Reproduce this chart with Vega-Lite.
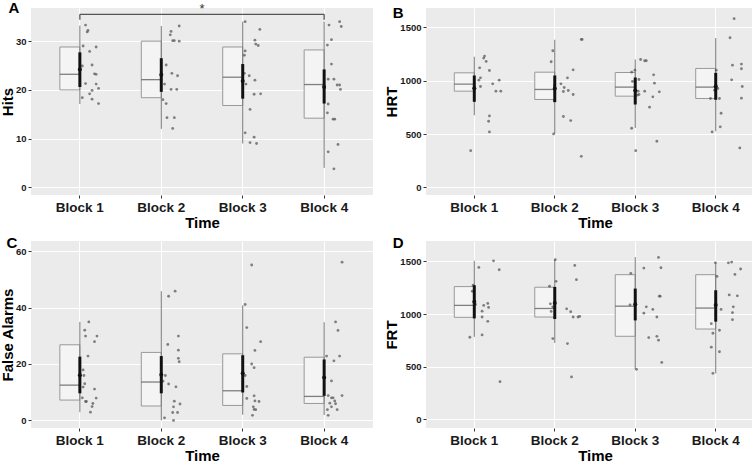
{
  "$schema": "https://vega.github.io/schema/vega-lite/v6.json",
  "background": "white",
  "padding": {"left": 0, "top": 0, "right": 0, "bottom": 0},
  "config": {
    "font": "Liberation Sans",
    "view": {"fill": "#EBEBEB", "stroke": null},
    "scale": {"continuousPadding": 0},
    "axis": {
      "labelFont": "Liberation Sans", "titleFont": "Liberation Sans",
      "labelFontWeight": "bold", "titleFontWeight": "bold",
      "labelColor": "#1a1a1a", "titleColor": "#000000",
      "domain": false, "tickColor": "#333333", "tickSize": 3, "tickWidth": 1,
      "gridColor": "#FFFFFF"
    },
    "axisX": {"labelFontSize": 13.5, "titleFontSize": 15, "labelAngle": 0, "labelPadding": 2, "titlePadding": 2, "bandPosition": 0.5, "grid": true, "gridWidth": 1.1},
    "axisY": {"labelFontSize": 9.5, "titleFontSize": 15, "labelPadding": 2, "titlePadding": 0},
    "title": {"font": "Liberation Sans", "fontWeight": "bold", "fontSize": 15, "anchor": "start", "frame": "bounds", "color": "#000000", "offset": -13, "dx": 8}
  },
  "datasets": {
    "stats": [
      {"p":"A","b":"Block 1","q1":20,"med":23.2,"q3":28.8,"lo":17.1,"hi":33.2,"mean":24.2,"cil":20.6,"cih":27.7},
      {"p":"A","b":"Block 2","q1":18.4,"med":22.1,"q3":30,"lo":12.0,"hi":33.1,"mean":23.1,"cil":19.6,"cih":26.5},
      {"p":"A","b":"Block 3","q1":16.8,"med":22.6,"q3":28.8,"lo":9.0,"hi":34.0,"mean":21.8,"cil":18.2,"cih":25.3},
      {"p":"A","b":"Block 4","q1":14.2,"med":21.1,"q3":28.2,"lo":4.0,"hi":34.0,"mean":20.6,"cil":17.2,"cih":24.2},
      {"p":"B","b":"Block 1","q1":902,"med":968,"q3":1074,"lo":676,"hi":1225,"mean":930,"cil":802,"cih":1049},
      {"p":"B","b":"Block 2","q1":824,"med":918,"q3":1080,"lo":504,"hi":1384,"mean":927,"cil":799,"cih":1049},
      {"p":"B","b":"Block 3","q1":855,"med":940,"q3":1077,"lo":557,"hi":1199,"mean":908,"cil":777,"cih":1030},
      {"p":"B","b":"Block 4","q1":833,"med":940,"q3":1115,"lo":526,"hi":1400,"mean":949,"cil":821,"cih":1074},
      {"p":"C","b":"Block 1","q1":7.2,"med":12.5,"q3":26.8,"lo":2.9,"hi":34.9,"mean":16.0,"cil":9.6,"cih":22.6},
      {"p":"C","b":"Block 2","q1":5.1,"med":13.6,"q3":24.1,"lo":0,"hi":45.8,"mean":16.2,"cil":9.6,"cih":22.8},
      {"p":"C","b":"Block 3","q1":5.3,"med":10.5,"q3":23.6,"lo":2.0,"hi":40.8,"mean":16.7,"cil":9.9,"cih":23.1},
      {"p":"C","b":"Block 4","q1":6.0,"med":8.5,"q3":22.4,"lo":1.9,"hi":34.8,"mean":15.2,"cil":8.7,"cih":21.6},
      {"p":"D","b":"Block 1","q1":969,"med":1082,"q3":1261,"lo":783,"hi":1506,"mean":1116,"cil":959,"cih":1274},
      {"p":"D","b":"Block 2","q1":972,"med":1053,"q3":1255,"lo":726,"hi":1516,"mean":1104,"cil":953,"cih":1258},
      {"p":"D","b":"Block 3","q1":789,"med":1075,"q3":1374,"lo":475,"hi":1541,"mean":1094,"cil":940,"cih":1242},
      {"p":"D","b":"Block 4","q1":858,"med":1057,"q3":1374,"lo":437,"hi":1491,"mean":1085,"cil":928,"cih":1226}
    ],
    "pts": [
      {"p":"A","b":"Block 1","v":33.3,"j":0.07},{"p":"A","b":"Block 1","v":32.2,"j":0.10},{"p":"A","b":"Block 1","v":31.9,"j":0.09},{"p":"A","b":"Block 1","v":29.0,"j":0.04},{"p":"A","b":"Block 1","v":28.8,"j":0.20},{"p":"A","b":"Block 1","v":27.9,"j":0.12},{"p":"A","b":"Block 1","v":25.1,"j":0.15},{"p":"A","b":"Block 1","v":24.9,"j":0.03},{"p":"A","b":"Block 1","v":23.3,"j":0.18},{"p":"A","b":"Block 1","v":23.2,"j":0.20},{"p":"A","b":"Block 1","v":21.3,"j":0.07},{"p":"A","b":"Block 1","v":21.2,"j":0.20},{"p":"A","b":"Block 1","v":20.3,"j":0.23},{"p":"A","b":"Block 1","v":19.9,"j":0.15},{"p":"A","b":"Block 1","v":19.2,"j":0.12},{"p":"A","b":"Block 1","v":18.4,"j":0.03},{"p":"A","b":"Block 1","v":18.1,"j":0.15},{"p":"A","b":"Block 1","v":17.2,"j":0.23},
      {"p":"A","b":"Block 2","v":33.1,"j":0.22},{"p":"A","b":"Block 2","v":32.0,"j":0.12},{"p":"A","b":"Block 2","v":31.3,"j":0.11},{"p":"A","b":"Block 2","v":30.1,"j":0.14},{"p":"A","b":"Block 2","v":30.1,"j":0.16},{"p":"A","b":"Block 2","v":30.0,"j":0.22},{"p":"A","b":"Block 2","v":25.1,"j":0.06},{"p":"A","b":"Block 2","v":23.4,"j":0.13},{"p":"A","b":"Block 2","v":22.9,"j":0.20},{"p":"A","b":"Block 2","v":21.2,"j":0.04},{"p":"A","b":"Block 2","v":20.1,"j":0.12},{"p":"A","b":"Block 2","v":20.1,"j":0.19},{"p":"A","b":"Block 2","v":18.0,"j":0.02},{"p":"A","b":"Block 2","v":17.2,"j":0.06},{"p":"A","b":"Block 2","v":14.3,"j":0.07},{"p":"A","b":"Block 2","v":14.3,"j":0.16},{"p":"A","b":"Block 2","v":12.1,"j":0.14},
      {"p":"A","b":"Block 3","v":34.0,"j":0.03},{"p":"A","b":"Block 3","v":32.4,"j":0.21},{"p":"A","b":"Block 3","v":30.2,"j":0.15},{"p":"A","b":"Block 3","v":29.4,"j":0.16},{"p":"A","b":"Block 3","v":29.1,"j":0.19},{"p":"A","b":"Block 3","v":28.0,"j":0.03},{"p":"A","b":"Block 3","v":27.1,"j":0.02},{"p":"A","b":"Block 3","v":23.4,"j":0.02},{"p":"A","b":"Block 3","v":22.9,"j":0.08},{"p":"A","b":"Block 3","v":22.0,"j":0.15},{"p":"A","b":"Block 3","v":21.2,"j":0.04},{"p":"A","b":"Block 3","v":19.2,"j":0.22},{"p":"A","b":"Block 3","v":19.1,"j":0.14},{"p":"A","b":"Block 3","v":16.0,"j":0.09},{"p":"A","b":"Block 3","v":11.2,"j":0.03},{"p":"A","b":"Block 3","v":10.3,"j":0.14},{"p":"A","b":"Block 3","v":9.2,"j":0.09},{"p":"A","b":"Block 3","v":9.0,"j":0.17},
      {"p":"A","b":"Block 4","v":34.0,"j":0.19},{"p":"A","b":"Block 4","v":33.3,"j":0.06},{"p":"A","b":"Block 4","v":33.0,"j":0.21},{"p":"A","b":"Block 4","v":30.3,"j":0.09},{"p":"A","b":"Block 4","v":29.2,"j":0.04},{"p":"A","b":"Block 4","v":25.3,"j":0.09},{"p":"A","b":"Block 4","v":22.2,"j":0.05},{"p":"A","b":"Block 4","v":22.2,"j":0.12},{"p":"A","b":"Block 4","v":21.0,"j":0.16},{"p":"A","b":"Block 4","v":21.0,"j":0.19},{"p":"A","b":"Block 4","v":20.1,"j":0.20},{"p":"A","b":"Block 4","v":17.1,"j":0.05},{"p":"A","b":"Block 4","v":15.3,"j":0.04},{"p":"A","b":"Block 4","v":14.0,"j":0.11},{"p":"A","b":"Block 4","v":14.0,"j":0.13},{"p":"A","b":"Block 4","v":8.8,"j":0.17},{"p":"A","b":"Block 4","v":7.3,"j":0.05},{"p":"A","b":"Block 4","v":3.8,"j":0.12},
      {"p":"B","b":"Block 1","v":1231,"j":0.12},{"p":"B","b":"Block 1","v":1212,"j":0.11},{"p":"B","b":"Block 1","v":1181,"j":0.14},{"p":"B","b":"Block 1","v":1121,"j":0.06},{"p":"B","b":"Block 1","v":1096,"j":0.18},{"p":"B","b":"Block 1","v":1027,"j":0.07},{"p":"B","b":"Block 1","v":1005,"j":0.05},{"p":"B","b":"Block 1","v":1005,"j":0.30},{"p":"B","b":"Block 1","v":946,"j":0.07},{"p":"B","b":"Block 1","v":971,"j":0.22},{"p":"B","b":"Block 1","v":902,"j":0.26},{"p":"B","b":"Block 1","v":902,"j":0.32},{"p":"B","b":"Block 1","v":670,"j":0.18},{"p":"B","b":"Block 1","v":620,"j":0.17},{"p":"B","b":"Block 1","v":520,"j":0.18},{"p":"B","b":"Block 1","v":344,"j":-0.05},
      {"p":"B","b":"Block 2","v":1281,"j":-0.03},{"p":"B","b":"Block 2","v":1178,"j":-0.05},{"p":"B","b":"Block 2","v":1102,"j":0.22},{"p":"B","b":"Block 2","v":1027,"j":0.15},{"p":"B","b":"Block 2","v":971,"j":0.07},{"p":"B","b":"Block 2","v":936,"j":0.11},{"p":"B","b":"Block 2","v":955,"j":-0.01},{"p":"B","b":"Block 2","v":908,"j":0.16},{"p":"B","b":"Block 2","v":899,"j":0.10},{"p":"B","b":"Block 2","v":871,"j":0.22},{"p":"B","b":"Block 2","v":811,"j":-0.01},{"p":"B","b":"Block 2","v":664,"j":0.10},{"p":"B","b":"Block 2","v":626,"j":0.19},{"p":"B","b":"Block 2","v":501,"j":-0.02},{"p":"B","b":"Block 2","v":1387,"j":0.32},{"p":"B","b":"Block 2","v":1387,"j":0.33},{"p":"B","b":"Block 2","v":291,"j":0.32},
      {"p":"B","b":"Block 3","v":1199,"j":0.06},{"p":"B","b":"Block 3","v":1187,"j":0.11},{"p":"B","b":"Block 3","v":1187,"j":0.13},{"p":"B","b":"Block 3","v":1099,"j":-0.01},{"p":"B","b":"Block 3","v":1080,"j":-0.05},{"p":"B","b":"Block 3","v":1011,"j":0.04},{"p":"B","b":"Block 3","v":1055,"j":0.22},{"p":"B","b":"Block 3","v":993,"j":-0.04},{"p":"B","b":"Block 3","v":902,"j":0.03},{"p":"B","b":"Block 3","v":902,"j":0.11},{"p":"B","b":"Block 3","v":977,"j":0.23},{"p":"B","b":"Block 3","v":864,"j":0.02},{"p":"B","b":"Block 3","v":871,"j":0.04},{"p":"B","b":"Block 3","v":896,"j":0.29},{"p":"B","b":"Block 3","v":849,"j":0.21},{"p":"B","b":"Block 3","v":752,"j":0.17},{"p":"B","b":"Block 3","v":554,"j":-0.05},{"p":"B","b":"Block 3","v":432,"j":0.26},{"p":"B","b":"Block 3","v":344,"j":0.0},
      {"p":"B","b":"Block 4","v":1582,"j":0.22},{"p":"B","b":"Block 4","v":1403,"j":0.17},{"p":"B","b":"Block 4","v":1156,"j":0.31},{"p":"B","b":"Block 4","v":1146,"j":0.20},{"p":"B","b":"Block 4","v":1112,"j":0.31},{"p":"B","b":"Block 4","v":1008,"j":0.19},{"p":"B","b":"Block 4","v":1099,"j":0.0},{"p":"B","b":"Block 4","v":946,"j":0.32},{"p":"B","b":"Block 4","v":927,"j":0.02},{"p":"B","b":"Block 4","v":911,"j":-0.02},{"p":"B","b":"Block 4","v":833,"j":-0.07},{"p":"B","b":"Block 4","v":833,"j":0.04},{"p":"B","b":"Block 4","v":836,"j":0.31},{"p":"B","b":"Block 4","v":695,"j":0.06},{"p":"B","b":"Block 4","v":567,"j":0.05},{"p":"B","b":"Block 4","v":520,"j":-0.05},{"p":"B","b":"Block 4","v":370,"j":0.29},
      {"p":"C","b":"Block 1","v":34.9,"j":0.11},{"p":"C","b":"Block 1","v":32.0,"j":0.06},{"p":"C","b":"Block 1","v":29.9,"j":0.07},{"p":"C","b":"Block 1","v":29.9,"j":0.21},{"p":"C","b":"Block 1","v":27.9,"j":0.18},{"p":"C","b":"Block 1","v":22.8,"j":0.10},{"p":"C","b":"Block 1","v":17.9,"j":0.04},{"p":"C","b":"Block 1","v":15.9,"j":0.05},{"p":"C","b":"Block 1","v":13.0,"j":0.06},{"p":"C","b":"Block 1","v":11.8,"j":0.04},{"p":"C","b":"Block 1","v":11.1,"j":0.18},{"p":"C","b":"Block 1","v":8.0,"j":0.03},{"p":"C","b":"Block 1","v":7.9,"j":0.20},{"p":"C","b":"Block 1","v":6.7,"j":0.07},{"p":"C","b":"Block 1","v":6.7,"j":0.08},{"p":"C","b":"Block 1","v":6.0,"j":0.16},{"p":"C","b":"Block 1","v":4.9,"j":0.15},{"p":"C","b":"Block 1","v":2.9,"j":0.13},
      {"p":"C","b":"Block 2","v":45.8,"j":0.17},{"p":"C","b":"Block 2","v":44.0,"j":0.09},{"p":"C","b":"Block 2","v":26.9,"j":0.08},{"p":"C","b":"Block 2","v":29.9,"j":0.21},{"p":"C","b":"Block 2","v":24.9,"j":0.21},{"p":"C","b":"Block 2","v":22.0,"j":0.21},{"p":"C","b":"Block 2","v":20.8,"j":0.22},{"p":"C","b":"Block 2","v":15.9,"j":0.05},{"p":"C","b":"Block 2","v":13.9,"j":0.02},{"p":"C","b":"Block 2","v":12.9,"j":0.09},{"p":"C","b":"Block 2","v":11.9,"j":0.18},{"p":"C","b":"Block 2","v":6.8,"j":0.16},{"p":"C","b":"Block 2","v":5.8,"j":0.23},{"p":"C","b":"Block 2","v":4.8,"j":0.15},{"p":"C","b":"Block 2","v":2.8,"j":0.14},{"p":"C","b":"Block 2","v":2.8,"j":0.20},{"p":"C","b":"Block 2","v":0.9,"j":0.04},{"p":"C","b":"Block 2","v":0,"j":0.15},
      {"p":"C","b":"Block 3","v":55.1,"j":0.11},{"p":"C","b":"Block 3","v":41.1,"j":0.03},{"p":"C","b":"Block 3","v":32.9,"j":0.05},{"p":"C","b":"Block 3","v":27.9,"j":0.22},{"p":"C","b":"Block 3","v":24.8,"j":0.15},{"p":"C","b":"Block 3","v":20.0,"j":0.11},{"p":"C","b":"Block 3","v":18.7,"j":0.14},{"p":"C","b":"Block 3","v":15.9,"j":0.03},{"p":"C","b":"Block 3","v":12.0,"j":0.05},{"p":"C","b":"Block 3","v":8.7,"j":0.14},{"p":"C","b":"Block 3","v":7.8,"j":0.05},{"p":"C","b":"Block 3","v":6.9,"j":0.15},{"p":"C","b":"Block 3","v":6.7,"j":0.20},{"p":"C","b":"Block 3","v":4.8,"j":0.13},{"p":"C","b":"Block 3","v":3.9,"j":0.14},{"p":"C","b":"Block 3","v":3.8,"j":0.16},{"p":"C","b":"Block 3","v":1.8,"j":0.12},
      {"p":"C","b":"Block 4","v":56.1,"j":0.22},{"p":"C","b":"Block 4","v":34.9,"j":0.14},{"p":"C","b":"Block 4","v":31.9,"j":0.17},{"p":"C","b":"Block 4","v":22.8,"j":0.19},{"p":"C","b":"Block 4","v":22.8,"j":0.03},{"p":"C","b":"Block 4","v":21.1,"j":0.12},{"p":"C","b":"Block 4","v":14.0,"j":0.09},{"p":"C","b":"Block 4","v":8.8,"j":0.22},{"p":"C","b":"Block 4","v":8.8,"j":0.05},{"p":"C","b":"Block 4","v":8.0,"j":0.09},{"p":"C","b":"Block 4","v":8.0,"j":0.11},{"p":"C","b":"Block 4","v":6.9,"j":0.13},{"p":"C","b":"Block 4","v":6.1,"j":0.07},{"p":"C","b":"Block 4","v":5.9,"j":0.14},{"p":"C","b":"Block 4","v":4.8,"j":0.09},{"p":"C","b":"Block 4","v":3.8,"j":0.16},{"p":"C","b":"Block 4","v":3.8,"j":0.04},{"p":"C","b":"Block 4","v":1.8,"j":0.05},
      {"p":"D","b":"Block 1","v":1443,"j":0.05},{"p":"D","b":"Block 1","v":1506,"j":0.23},{"p":"D","b":"Block 1","v":1421,"j":0.30},{"p":"D","b":"Block 1","v":1274,"j":-0.02},{"p":"D","b":"Block 1","v":1217,"j":-0.03},{"p":"D","b":"Block 1","v":1091,"j":0.01},{"p":"D","b":"Block 1","v":1082,"j":0.11},{"p":"D","b":"Block 1","v":1101,"j":0.16},{"p":"D","b":"Block 1","v":1063,"j":0.17},{"p":"D","b":"Block 1","v":1028,"j":0.09},{"p":"D","b":"Block 1","v":972,"j":0.09},{"p":"D","b":"Block 1","v":931,"j":0.16},{"p":"D","b":"Block 1","v":802,"j":0.09},{"p":"D","b":"Block 1","v":780,"j":-0.06},{"p":"D","b":"Block 1","v":358,"j":0.31},
      {"p":"D","b":"Block 2","v":1516,"j":0.0},{"p":"D","b":"Block 2","v":1462,"j":0.24},{"p":"D","b":"Block 2","v":1311,"j":0.01},{"p":"D","b":"Block 2","v":1327,"j":0.26},{"p":"D","b":"Block 2","v":1264,"j":-0.07},{"p":"D","b":"Block 2","v":1097,"j":-0.06},{"p":"D","b":"Block 2","v":1069,"j":-0.03},{"p":"D","b":"Block 2","v":1025,"j":-0.05},{"p":"D","b":"Block 2","v":1050,"j":0.14},{"p":"D","b":"Block 2","v":1022,"j":0.19},{"p":"D","b":"Block 2","v":972,"j":0.22},{"p":"D","b":"Block 2","v":972,"j":0.28},{"p":"D","b":"Block 2","v":978,"j":0.30},{"p":"D","b":"Block 2","v":767,"j":-0.03},{"p":"D","b":"Block 2","v":720,"j":0.15},{"p":"D","b":"Block 2","v":403,"j":0.20},
      {"p":"D","b":"Block 3","v":1538,"j":0.28},{"p":"D","b":"Block 3","v":1437,"j":0.10},{"p":"D","b":"Block 3","v":1440,"j":0.31},{"p":"D","b":"Block 3","v":1387,"j":-0.06},{"p":"D","b":"Block 3","v":1170,"j":0.29},{"p":"D","b":"Block 3","v":1170,"j":0.30},{"p":"D","b":"Block 3","v":1088,"j":-0.07},{"p":"D","b":"Block 3","v":1069,"j":0.13},{"p":"D","b":"Block 3","v":1044,"j":0.21},{"p":"D","b":"Block 3","v":1009,"j":0.10},{"p":"D","b":"Block 3","v":972,"j":0.26},{"p":"D","b":"Block 3","v":777,"j":0.16},{"p":"D","b":"Block 3","v":789,"j":0.26},{"p":"D","b":"Block 3","v":752,"j":0.28},{"p":"D","b":"Block 3","v":541,"j":0.32},{"p":"D","b":"Block 3","v":475,"j":0.01},
      {"p":"D","b":"Block 4","v":1487,"j":-0.01},{"p":"D","b":"Block 4","v":1487,"j":0.15},{"p":"D","b":"Block 4","v":1494,"j":0.19},{"p":"D","b":"Block 4","v":1358,"j":0.01},{"p":"D","b":"Block 4","v":1377,"j":0.23},{"p":"D","b":"Block 4","v":1428,"j":0.30},{"p":"D","b":"Block 4","v":1182,"j":0.16},{"p":"D","b":"Block 4","v":1173,"j":0.26},{"p":"D","b":"Block 4","v":1044,"j":0.06},{"p":"D","b":"Block 4","v":1069,"j":0.21},{"p":"D","b":"Block 4","v":1013,"j":0.20},{"p":"D","b":"Block 4","v":947,"j":0.20},{"p":"D","b":"Block 4","v":909,"j":-0.06},{"p":"D","b":"Block 4","v":818,"j":-0.04},{"p":"D","b":"Block 4","v":846,"j":0.04},{"p":"D","b":"Block 4","v":642,"j":0.04},{"p":"D","b":"Block 4","v":686,"j":-0.06},{"p":"D","b":"Block 4","v":437,"j":-0.04}
    ],
    "sig": [
      {"p":"A","b1":"Block 1","b2":"Block 4","bm":"Block 2","y":35.5,"yt":34.4,"ys":36.6,"label":"*"}
    ]
  },
  "columns": 2,
  "spacing": {"row": 5, "column": 11},
  "concat": [
    {
      "width": 342, "height": 187,
      "title": {"text": "A"},
      "encoding": {"x": {"field": "b", "type": "nominal", "title": "Time", "scale": {"type": "band", "paddingInner": 0, "paddingOuter": 0.1, "domain": ["Block 1","Block 2","Block 3","Block 4"]}}},
      "layer": [
        {"data": {"name": "stats"}, "transform": [{"filter": "datum.p === 'A'"}],
         "mark": {"type": "bar", "width": 20, "xOffset": -10, "fill": "#F4F4F4", "stroke": "#999999", "strokeWidth": 1},
         "encoding": {"y": {"field": "q1", "type": "quantitative", "title": "Hits", "scale": {"domain": [-1.56, 36.8], "nice": false, "zero": false, "padding": 0},
            "axis": {"values": [0,5,10,15,20,25,30,35], "labelExpr": "datum.value % 10 === 0 ? datum.label : ''", "tickOpacity": {"condition": {"test": "datum.value % 10 === 0", "value": 1}, "value": 0}, "gridWidth": {"condition": {"test": "datum.value % 10 === 0", "value": 1.1}, "value": 0.5}}},
           "y2": {"field": "q3"}}},
        {"data": {"name": "stats"}, "transform": [{"filter": "datum.p === 'A'"}],
         "mark": {"type": "rule", "color": "#7A7A7A", "strokeWidth": 1},
         "encoding": {"y": {"field": "lo", "type": "quantitative", "title": "Hits"}, "y2": {"field": "hi"}}},
        {"data": {"name": "stats"}, "transform": [{"filter": "datum.p === 'A'"}],
         "mark": {"type": "tick", "orient": "horizontal", "size": 20, "xOffset": -10, "thickness": 1.3, "color": "#4D4D4D"},
         "encoding": {"y": {"field": "med", "type": "quantitative", "title": "Hits"}}},
        {"data": {"name": "pts"}, "transform": [{"filter": "datum.p === 'A'"}],
         "mark": {"type": "circle", "size": 8, "color": "#5A5A5A", "opacity": 0.75},
         "encoding": {"xOffset": {"field": "j", "type": "quantitative", "scale": {"domain": [-0.5, 0.5]}}, "y": {"field": "v", "type": "quantitative", "title": "Hits"}}},
        {"data": {"name": "stats"}, "transform": [{"filter": "datum.p === 'A'"}],
         "mark": {"type": "rule", "color": "#111111", "strokeWidth": 3},
         "encoding": {"y": {"field": "cil", "type": "quantitative", "title": "Hits"}, "y2": {"field": "cih"}}},
        {"data": {"name": "stats"}, "transform": [{"filter": "datum.p === 'A'"}],
         "mark": {"type": "point", "filled": true, "size": 16, "color": "#111111", "opacity": 1},
         "encoding": {"y": {"field": "mean", "type": "quantitative", "title": "Hits"}}},
        {"data": {"name": "sig"},
         "mark": {"type": "rule", "color": "#555555", "strokeWidth": 1.3},
         "encoding": {"x": {"field": "b1", "type": "nominal"}, "x2": {"field": "b2"}, "y": {"field": "y", "type": "quantitative", "title": "Hits"}}},
        {"data": {"name": "sig"},
         "mark": {"type": "rule", "color": "#555555", "strokeWidth": 1.3},
         "encoding": {"x": {"field": "b1", "type": "nominal"}, "y": {"field": "yt", "type": "quantitative", "title": "Hits"}, "y2": {"field": "y"}}},
        {"data": {"name": "sig"},
         "mark": {"type": "rule", "color": "#555555", "strokeWidth": 1.3},
         "encoding": {"x": {"field": "b2", "type": "nominal"}, "y": {"field": "yt", "type": "quantitative", "title": "Hits"}, "y2": {"field": "y"}}},
        {"data": {"name": "sig"},
         "mark": {"type": "text", "fontSize": 13, "color": "#333333", "dx": 40.7, "baseline": "middle"},
         "encoding": {"x": {"field": "bm", "type": "nominal"}, "y": {"field": "ys", "type": "quantitative", "title": "Hits"}, "text": {"field": "label"}}}
      ]
    },
    {
      "width": 338, "height": 187,
      "title": {"text": "B"},
      "encoding": {"x": {"field": "b", "type": "nominal", "title": "Time", "scale": {"type": "band", "paddingInner": 0, "paddingOuter": 0.1, "domain": ["Block 1","Block 2","Block 3","Block 4"]}}},
      "layer": [
        {"data": {"name": "stats"}, "transform": [{"filter": "datum.p === 'B'"}],
         "mark": {"type": "bar", "width": 20, "xOffset": -10, "fill": "#F4F4F4", "stroke": "#999999", "strokeWidth": 1},
         "encoding": {"y": {"field": "q1", "type": "quantitative", "title": "HRT", "scale": {"domain": [-72, 1682], "nice": false, "zero": false, "padding": 0},
            "axis": {"values": [0,250,500,750,1000,1250,1500], "labelExpr": "datum.value % 500 === 0 ? datum.label : ''", "format": "d", "tickOpacity": {"condition": {"test": "datum.value % 500 === 0", "value": 1}, "value": 0}, "gridWidth": {"condition": {"test": "datum.value % 500 === 0", "value": 1.1}, "value": 0.5}}},
           "y2": {"field": "q3"}}},
        {"data": {"name": "stats"}, "transform": [{"filter": "datum.p === 'B'"}],
         "mark": {"type": "rule", "color": "#7A7A7A", "strokeWidth": 1},
         "encoding": {"y": {"field": "lo", "type": "quantitative", "title": "HRT"}, "y2": {"field": "hi"}}},
        {"data": {"name": "stats"}, "transform": [{"filter": "datum.p === 'B'"}],
         "mark": {"type": "tick", "orient": "horizontal", "size": 20, "xOffset": -10, "thickness": 1.3, "color": "#4D4D4D"},
         "encoding": {"y": {"field": "med", "type": "quantitative", "title": "HRT"}}},
        {"data": {"name": "pts"}, "transform": [{"filter": "datum.p === 'B'"}],
         "mark": {"type": "circle", "size": 8, "color": "#5A5A5A", "opacity": 0.75},
         "encoding": {"xOffset": {"field": "j", "type": "quantitative", "scale": {"domain": [-0.5, 0.5]}}, "y": {"field": "v", "type": "quantitative", "title": "HRT"}}},
        {"data": {"name": "stats"}, "transform": [{"filter": "datum.p === 'B'"}],
         "mark": {"type": "rule", "color": "#111111", "strokeWidth": 3},
         "encoding": {"y": {"field": "cil", "type": "quantitative", "title": "HRT"}, "y2": {"field": "cih"}}},
        {"data": {"name": "stats"}, "transform": [{"filter": "datum.p === 'B'"}],
         "mark": {"type": "point", "filled": true, "size": 16, "color": "#111111", "opacity": 1},
         "encoding": {"y": {"field": "mean", "type": "quantitative", "title": "HRT"}}}
      ]
    },
    {
      "width": 342, "height": 187,
      "title": {"text": "C", "offset": -10, "dx": 6},
      "encoding": {"x": {"field": "b", "type": "nominal", "title": "Time", "scale": {"type": "band", "paddingInner": 0, "paddingOuter": 0.1, "domain": ["Block 1","Block 2","Block 3","Block 4"]}}},
      "layer": [
        {"data": {"name": "stats"}, "transform": [{"filter": "datum.p === 'C'"}],
         "mark": {"type": "bar", "width": 20, "xOffset": -10, "fill": "#F4F4F4", "stroke": "#999999", "strokeWidth": 1},
         "encoding": {"y": {"field": "q1", "type": "quantitative", "title": "False Alarms", "scale": {"domain": [-2.7, 63.6], "nice": false, "zero": false, "padding": 0},
            "axis": {"values": [0,10,20,30,40,50,60], "labelExpr": "datum.value % 20 === 0 ? datum.label : ''", "tickOpacity": {"condition": {"test": "datum.value % 20 === 0", "value": 1}, "value": 0}, "gridWidth": {"condition": {"test": "datum.value % 20 === 0", "value": 1.1}, "value": 0.5}}},
           "y2": {"field": "q3"}}},
        {"data": {"name": "stats"}, "transform": [{"filter": "datum.p === 'C'"}],
         "mark": {"type": "rule", "color": "#7A7A7A", "strokeWidth": 1},
         "encoding": {"y": {"field": "lo", "type": "quantitative", "title": "False Alarms"}, "y2": {"field": "hi"}}},
        {"data": {"name": "stats"}, "transform": [{"filter": "datum.p === 'C'"}],
         "mark": {"type": "tick", "orient": "horizontal", "size": 20, "xOffset": -10, "thickness": 1.3, "color": "#4D4D4D"},
         "encoding": {"y": {"field": "med", "type": "quantitative", "title": "False Alarms"}}},
        {"data": {"name": "pts"}, "transform": [{"filter": "datum.p === 'C'"}],
         "mark": {"type": "circle", "size": 8, "color": "#5A5A5A", "opacity": 0.75},
         "encoding": {"xOffset": {"field": "j", "type": "quantitative", "scale": {"domain": [-0.5, 0.5]}}, "y": {"field": "v", "type": "quantitative", "title": "False Alarms"}}},
        {"data": {"name": "stats"}, "transform": [{"filter": "datum.p === 'C'"}],
         "mark": {"type": "rule", "color": "#111111", "strokeWidth": 3},
         "encoding": {"y": {"field": "cil", "type": "quantitative", "title": "False Alarms"}, "y2": {"field": "cih"}}},
        {"data": {"name": "stats"}, "transform": [{"filter": "datum.p === 'C'"}],
         "mark": {"type": "point", "filled": true, "size": 16, "color": "#111111", "opacity": 1},
         "encoding": {"y": {"field": "mean", "type": "quantitative", "title": "False Alarms"}}}
      ]
    },
    {
      "width": 338, "height": 187,
      "title": {"text": "D", "offset": -10},
      "encoding": {"x": {"field": "b", "type": "nominal", "title": "Time", "scale": {"type": "band", "paddingInner": 0, "paddingOuter": 0.1, "domain": ["Block 1","Block 2","Block 3","Block 4"]}}},
      "layer": [
        {"data": {"name": "stats"}, "transform": [{"filter": "datum.p === 'D'"}],
         "mark": {"type": "bar", "width": 20, "xOffset": -10, "fill": "#F4F4F4", "stroke": "#999999", "strokeWidth": 1},
         "encoding": {"y": {"field": "q1", "type": "quantitative", "title": "FRT", "scale": {"domain": [-82, 1694], "nice": false, "zero": false, "padding": 0},
            "axis": {"values": [0,250,500,750,1000,1250,1500], "labelExpr": "datum.value % 500 === 0 ? datum.label : ''", "format": "d", "tickOpacity": {"condition": {"test": "datum.value % 500 === 0", "value": 1}, "value": 0}, "gridWidth": {"condition": {"test": "datum.value % 500 === 0", "value": 1.1}, "value": 0.5}}},
           "y2": {"field": "q3"}}},
        {"data": {"name": "stats"}, "transform": [{"filter": "datum.p === 'D'"}],
         "mark": {"type": "rule", "color": "#7A7A7A", "strokeWidth": 1},
         "encoding": {"y": {"field": "lo", "type": "quantitative", "title": "FRT"}, "y2": {"field": "hi"}}},
        {"data": {"name": "stats"}, "transform": [{"filter": "datum.p === 'D'"}],
         "mark": {"type": "tick", "orient": "horizontal", "size": 20, "xOffset": -10, "thickness": 1.3, "color": "#4D4D4D"},
         "encoding": {"y": {"field": "med", "type": "quantitative", "title": "FRT"}}},
        {"data": {"name": "pts"}, "transform": [{"filter": "datum.p === 'D'"}],
         "mark": {"type": "circle", "size": 8, "color": "#5A5A5A", "opacity": 0.75},
         "encoding": {"xOffset": {"field": "j", "type": "quantitative", "scale": {"domain": [-0.5, 0.5]}}, "y": {"field": "v", "type": "quantitative", "title": "FRT"}}},
        {"data": {"name": "stats"}, "transform": [{"filter": "datum.p === 'D'"}],
         "mark": {"type": "rule", "color": "#111111", "strokeWidth": 3},
         "encoding": {"y": {"field": "cil", "type": "quantitative", "title": "FRT"}, "y2": {"field": "cih"}}},
        {"data": {"name": "stats"}, "transform": [{"filter": "datum.p === 'D'"}],
         "mark": {"type": "point", "filled": true, "size": 16, "color": "#111111", "opacity": 1},
         "encoding": {"y": {"field": "mean", "type": "quantitative", "title": "FRT"}}}
      ]
    }
  ]
}
